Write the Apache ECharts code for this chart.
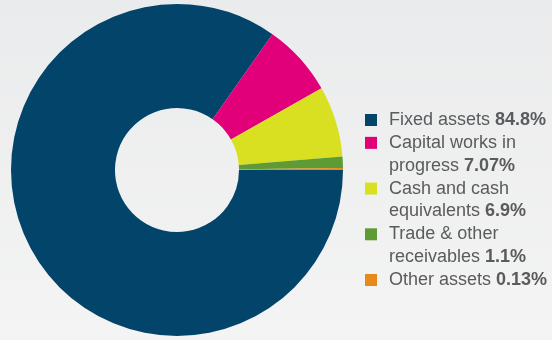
<!DOCTYPE html>
<html>
<head>
<meta charset="utf-8">
<script src="https://cdn.jsdelivr.net/npm/echarts@6/dist/echarts.min.js"></script>
<style>
  html, body { margin: 0; padding: 0; }
  #chart { width: 552px; height: 340px; }
</style>
</head>
<body>
<div id="chart"></div>
<script>
// Asset composition
const categories = ['Fixed assets', 'Capital works in\nprogress', 'Cash and cash\nequivalents', 'Trade & other\nreceivables', 'Other assets'];
const values = [84.8, 7.07, 6.9, 1.1, 0.13];
const valueLabels = ['84.8%', '7.07%', '6.9%', '1.1%', '0.13%'];
const colors = ['#03456a', '#e2007a', '#d9e021', '#5f9b34', '#e8891b'];

const FONT = '"Liberation Sans", Arial, Helvetica, sans-serif';
const TEXT_COLOR = '#5a5b5d';

// Legend drawn as graphic elements so each swatch sits on its item's first line
const legendX = 365;
const textX = 389;
const firstLineY = 120;
const lineStep = 22.86;
const graphics = [];
let line = 0;
categories.forEach((name, i) => {
  const rows = name.split('\n');
  graphics.push({
    type: 'rect',
    shape: { x: legendX, y: firstLineY + line * lineStep - 6, width: 12, height: 12 },
    style: { fill: colors[i] },
    silent: true
  });
  rows.forEach((row, r) => {
    const last = r === rows.length - 1;
    graphics.push({
      type: 'text',
      x: textX,
      y: firstLineY + line * lineStep,
      silent: true,
      style: {
        text: last ? '{n|' + row + ' }{b|' + valueLabels[i] + '}' : '{n|' + row + '}',
        verticalAlign: 'middle',
        rich: {
          n: { fontFamily: FONT, fontSize: 18, fill: TEXT_COLOR, verticalAlign: 'middle' },
          b: { fontFamily: FONT, fontSize: 18, fontWeight: 'bold', fill: TEXT_COLOR, verticalAlign: 'middle' }
        }
      }
    });
    line++;
  });
});

const chart = echarts.init(document.getElementById('chart'), null, { renderer: 'canvas' });
chart.setOption({
  animation: false,
  backgroundColor: {
    type: 'linear', x: 0, y: 0, x2: 0, y2: 1,
    colorStops: [{ offset: 0, color: '#eaebec' }, { offset: 1, color: '#f4f4f4' }]
  },
  graphic: graphics,
  series: [{
    type: 'pie',
    center: [177, 170],
    radius: [62, 166],
    startAngle: 0,
    clockwise: true,
    minAngle: 0.7,
    silent: true,
    label: { show: false },
    labelLine: { show: false },
    itemStyle: { borderWidth: 0 },
    data: values.map((v, i) => ({
      name: categories[i].replace('\n', ' '),
      value: v,
      itemStyle: { color: colors[i] }
    }))
  }]
});
</script>
</body>
</html>
